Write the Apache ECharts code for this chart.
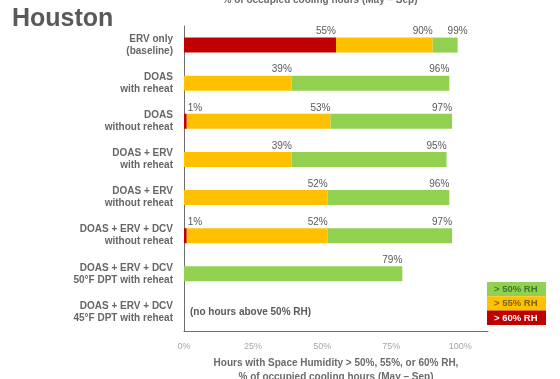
<!DOCTYPE html>
<html>
<head>
<meta charset="utf-8">
<script src="https://cdn.jsdelivr.net/npm/echarts@6/dist/echarts.min.js"></script>
<style>
  html, body { margin: 0; padding: 0; background: #fff; }
  #chart { width: 560px; height: 379px; }
</style>
</head>
<body>
<div id="chart"></div>
<script>
// Ventilation strategies (top to bottom)
const categories = [
  'ERV only\n(baseline)',
  'DOAS\nwith reheat',
  'DOAS\nwithout reheat',
  'DOAS + ERV\nwith reheat',
  'DOAS + ERV\nwithout reheat',
  'DOAS + ERV + DCV\nwithout reheat',
  'DOAS + ERV + DCV\n50°F DPT with reheat',
  'DOAS + ERV + DCV\n45°F DPT with reheat'
];

// Share of occupied cooling hours above each humidity threshold (%)
const above60 = [55, 0, 1, 0, 0, 1, 0, 0];
const above55 = [90, 39, 53, 39, 52, 52, 0, 0];
const above50 = [99, 96, 97, 95, 96, 97, 79, 0];

const xTicks = [0, 25, 50, 75, 100];
const legendNames = ['> 50% RH', '> 55% RH', '> 60% RH'];
const emptyNote = '(no hours above 50% RH)';

const C_RED = '#c00000', C_ORANGE = '#ffc000', C_GREEN = '#92d050';
const FONT = '"Liberation Sans", Arial, sans-serif';

const baseLabel = {
  show: true,
  position: ['100%', -1],
  align: 'right',
  verticalAlign: 'bottom',
  color: '#595959',
  fontSize: 10,
  fontFamily: FONT
};

// Stacked segments: each band holds the part between two thresholds
function segment(lower, upper, i) {
  return Math.max(0, upper[i] - (lower ? lower[i] : 0));
}

function buildData(lower, upper, cumulative, overrides) {
  return categories.map((_, i) => {
    const v = segment(lower, upper, i);
    const item = { value: v };
    if (cumulative[i] > 0 && v > 0) {
      item.label = Object.assign({}, baseLabel, { formatter: cumulative[i] + '%' }, (overrides && overrides[i]) || {});
    } else {
      item.label = { show: false };
    }
    return item;
  });
}

const redData = buildData(null, above60, above60,
  above60.map(v => (v > 0 && v < 5) ? { align: 'left', offset: [1, 0] } : null));
const orangeData = buildData(above60, above55, above55, null);
const greenData = buildData(above55, above50, above50,
  above50.map((v, i) => (above50[i] - above55[i] < 12 && above55[i] > 0) ? { offset: [10, 0] } : null));

const chart = echarts.init(document.getElementById('chart'), null, { renderer: 'canvas' });

const barCommon = { type: 'bar', stack: 'rh', barWidth: 15, silent: true, animation: false };

chart.setOption({
  animation: false,
  textStyle: { fontFamily: FONT },
  grid: { left: 184, right: 72, top: 26, bottom: 48, containLabel: false, outerBoundsMode: 'none' },
  xAxis: {
    type: 'value',
    min: 0,
    max: 110,
    interval: 25,
    splitLine: { show: false },
    axisLine: { show: true, lineStyle: { color: '#6e6e6e', width: 1 } },
    axisTick: { show: false },
    axisLabel: {
      color: '#a6a6a6',
      fontSize: 9,
      margin: 11,
      fontFamily: FONT,
      formatter: v => xTicks.includes(v) ? v + '%' : ''
    },
    name: 'Hours with Space Humidity > 50%, 55%, or 60% RH,\n% of occupied cooling hours (May – Sep)',
    nameLocation: 'middle',
    nameGap: 23,
    nameTextStyle: {
      color: '#6b6b6b',
      fontSize: 10,
      fontWeight: 'bold',
      lineHeight: 14,
      verticalAlign: 'top',
      fontFamily: FONT
    }
  },
  yAxis: {
    type: 'category',
    data: categories,
    inverse: true,
    axisLine: { show: true, lineStyle: { color: '#6e6e6e', width: 1 } },
    axisTick: { show: false },
    axisLabel: {
      color: '#666666',
      fontSize: 10,
      fontWeight: 'bold',
      lineHeight: 12,
      margin: 11,
      align: 'right',
      fontFamily: FONT
    }
  },
  series: [
    Object.assign({ name: legendNames[2], itemStyle: { color: C_RED }, data: redData }, barCommon),
    Object.assign({ name: legendNames[1], itemStyle: { color: C_ORANGE }, data: orangeData }, barCommon),
    Object.assign({ name: legendNames[0], itemStyle: { color: C_GREEN }, data: greenData }, barCommon)
  ]
});

// Place the note for the last strategy next to the axis at its row
const notePos = chart.convertToPixel({ gridIndex: 0 }, [0, categories.length - 1]);

// Colour-block legend, top row = lowest threshold
const legendColors = [C_GREEN, C_ORANGE, C_RED];
const legendTextColors = ['#3f7a2c', '#7d6410', '#ffffff'];
const legendItems = legendNames.map((name, i) => ({
  type: 'group',
  x: 487,
  y: 282 + i * 14.3,
  children: [
    { type: 'rect', shape: { x: 0, y: 0, width: 59, height: 14.3 }, style: { fill: legendColors[i] } },
    { type: 'text', x: 7, y: 7.5, style: { text: name, fill: legendTextColors[i], font: 'bold 9.5px ' + FONT, verticalAlign: 'middle' } }
  ]
}));

chart.setOption({
  graphic: [
    { type: 'text', left: 12, top: 7, style: { text: 'Houston', fill: '#595959', font: 'bold 25px ' + FONT } },
    { type: 'text', x: 320, y: 0, style: { text: '% of occupied cooling hours (May – Sep)', fill: '#6b6b6b', font: 'bold 10px ' + FONT, align: 'center', verticalAlign: 'middle' } },
    { type: 'text', x: notePos[0] + 6, y: notePos[1], style: { text: emptyNote, fill: '#595959', font: 'bold 10px ' + FONT, verticalAlign: 'middle' } }
  ].concat(legendItems)
});
</script>
</body>
</html>
